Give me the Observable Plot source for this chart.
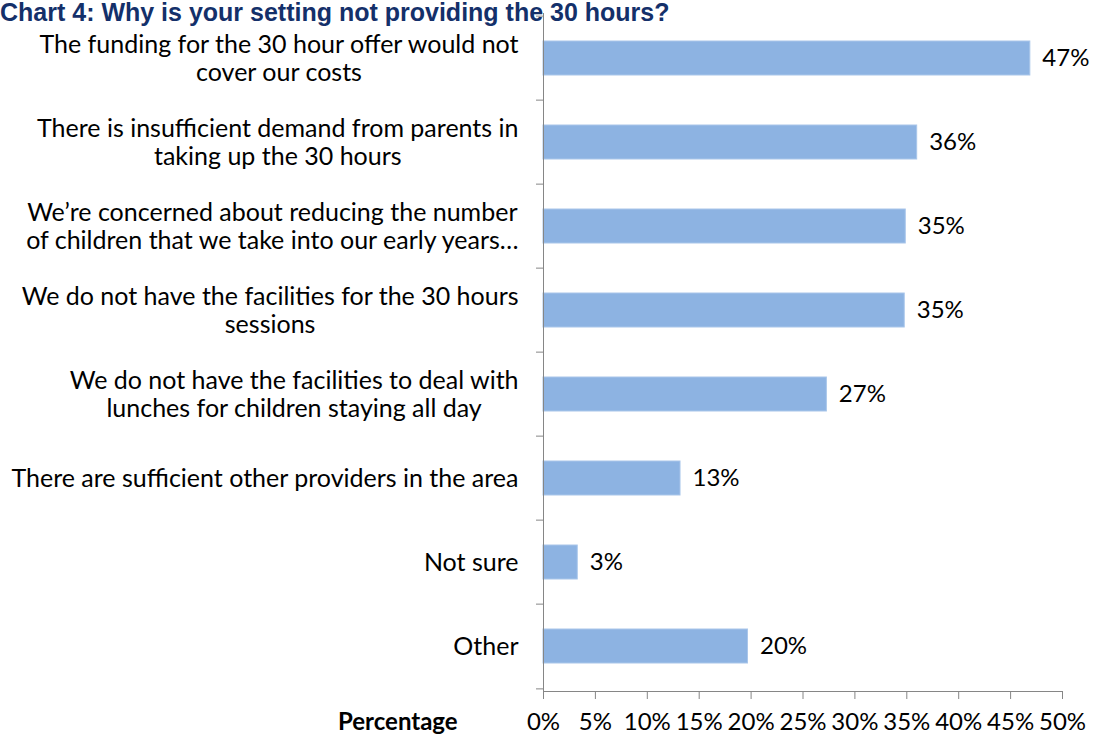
<!DOCTYPE html>
<html>
<head>
<meta charset="utf-8">
<script src="https://cdn.jsdelivr.net/npm/d3@7"></script>
<script src="https://cdn.jsdelivr.net/npm/@observablehq/plot@0.6"></script>
<style>
  html, body { margin: 0; padding: 0; background: #fff; overflow: hidden; }
  #wrap { position: relative; width: 1093px; height: 735px; }
  #title { position: absolute; left: 0; top: 0px; font: bold 25px "Liberation Sans", Arial, sans-serif; color: #14306A; white-space: nowrap; line-height: 1; z-index: 2; }
  #xlabel { position: absolute; left: 338px; top: 707px; font: bold 24px Lato, sans-serif; color: #000; white-space: nowrap; line-height: 1.2; }
  svg { font-family: Lato, sans-serif; }
</style>
</head>
<body>
<div id="wrap">
  <div id="title">Chart 4: Why is your setting not providing the 30 hours?</div>
  <div id="chart"></div>
  <div id="xlabel">Percentage</div>
</div>
<script>
const categories = [
  "The funding for the 30 hour offer would not\ncover our costs",
  "There is insufficient demand from parents in\ntaking up the 30 hours",
  "We’re concerned about reducing the number\nof children that we take into our early years…",
  "We do not have the facilities for the 30 hours\nsessions",
  "We do not have the facilities to deal with\nlunches for children staying all day",
  "There are sufficient other providers in the area",
  "Not sure",
  "Other"
];
const values = [0.469, 0.360, 0.349, 0.348, 0.273, 0.132, 0.033, 0.197];
const valueLabels = ["47%", "36%", "35%", "35%", "27%", "13%", "3%", "20%"];
const xTicks = [0, 0.05, 0.10, 0.15, 0.20, 0.25, 0.30, 0.35, 0.40, 0.45, 0.50];

const data = categories.map((c, i) => ({label: c, value: values[i], text: valueLabels[i]}));

const W = 1093, H = 735, mt = 13, mb = 44, ml = 543, mr = 31;
const step = (H - mt - mb) / categories.length;

const chart = Plot.plot({
  width: W, height: H,
  marginTop: mt, marginBottom: mb, marginLeft: ml, marginRight: mr,
  style: {fontFamily: "Lato, sans-serif", fontSize: "24px", color: "#000", background: "#fff", overflow: "visible"},
  x: {domain: [0, 0.5], ticks: xTicks, tickFormat: d3.format(".0%")},
  y: {domain: categories, paddingInner: 0.6, paddingOuter: 0.3},
  marks: [
    Plot.barX(data, {x: "value", y: "label", fill: "#8DB3E2", stroke: "#A9C6EA", strokeWidth: 1}),
    Plot.text(data, {x: "value", y: "label", text: "text", textAnchor: "start", dx: 12, fontSize: 24, fill: "#000"}),
    Plot.frame({anchor: "left", stroke: "#868686"}),
    Plot.frame({anchor: "bottom", stroke: "#868686"}),
    Plot.ruleY(categories, {y: d => d, x1: 0, x2: 0.0068, dx: -7, dy: -step / 2, stroke: "#868686"}),
    Plot.ruleY([categories[categories.length - 1]], {y: d => d, x1: 0, x2: 0.0068, dx: -7, dy: step / 2, stroke: "#868686"}),
    Plot.axisX({ticks: xTicks, tickSize: 8, tickPadding: 13, stroke: "#868686", label: null, fontSize: 24, tickFormat: d3.format(".0%")}),
    Plot.axisY({tickSize: 0, tickPadding: 25, label: null, fontSize: 25, lineHeight: 1.12})
  ]
});
document.getElementById("chart").appendChild(chart);

// center multi-line y labels (as in the original)
chart.querySelectorAll('g[aria-label="y-axis tick label"] text').forEach(t => {
  const tspans = t.querySelectorAll("tspan");
  if (tspans.length < 2) return;
  const bb = t.getBBox();
  t.setAttribute("text-anchor", "middle");
  tspans.forEach(s => s.setAttribute("x", bb.x + bb.width / 2));
});
chart.querySelectorAll('g[aria-label="x-axis tick label"] text').forEach(t => t.setAttribute("fill", "#000"));
</script>
</body>
</html>
